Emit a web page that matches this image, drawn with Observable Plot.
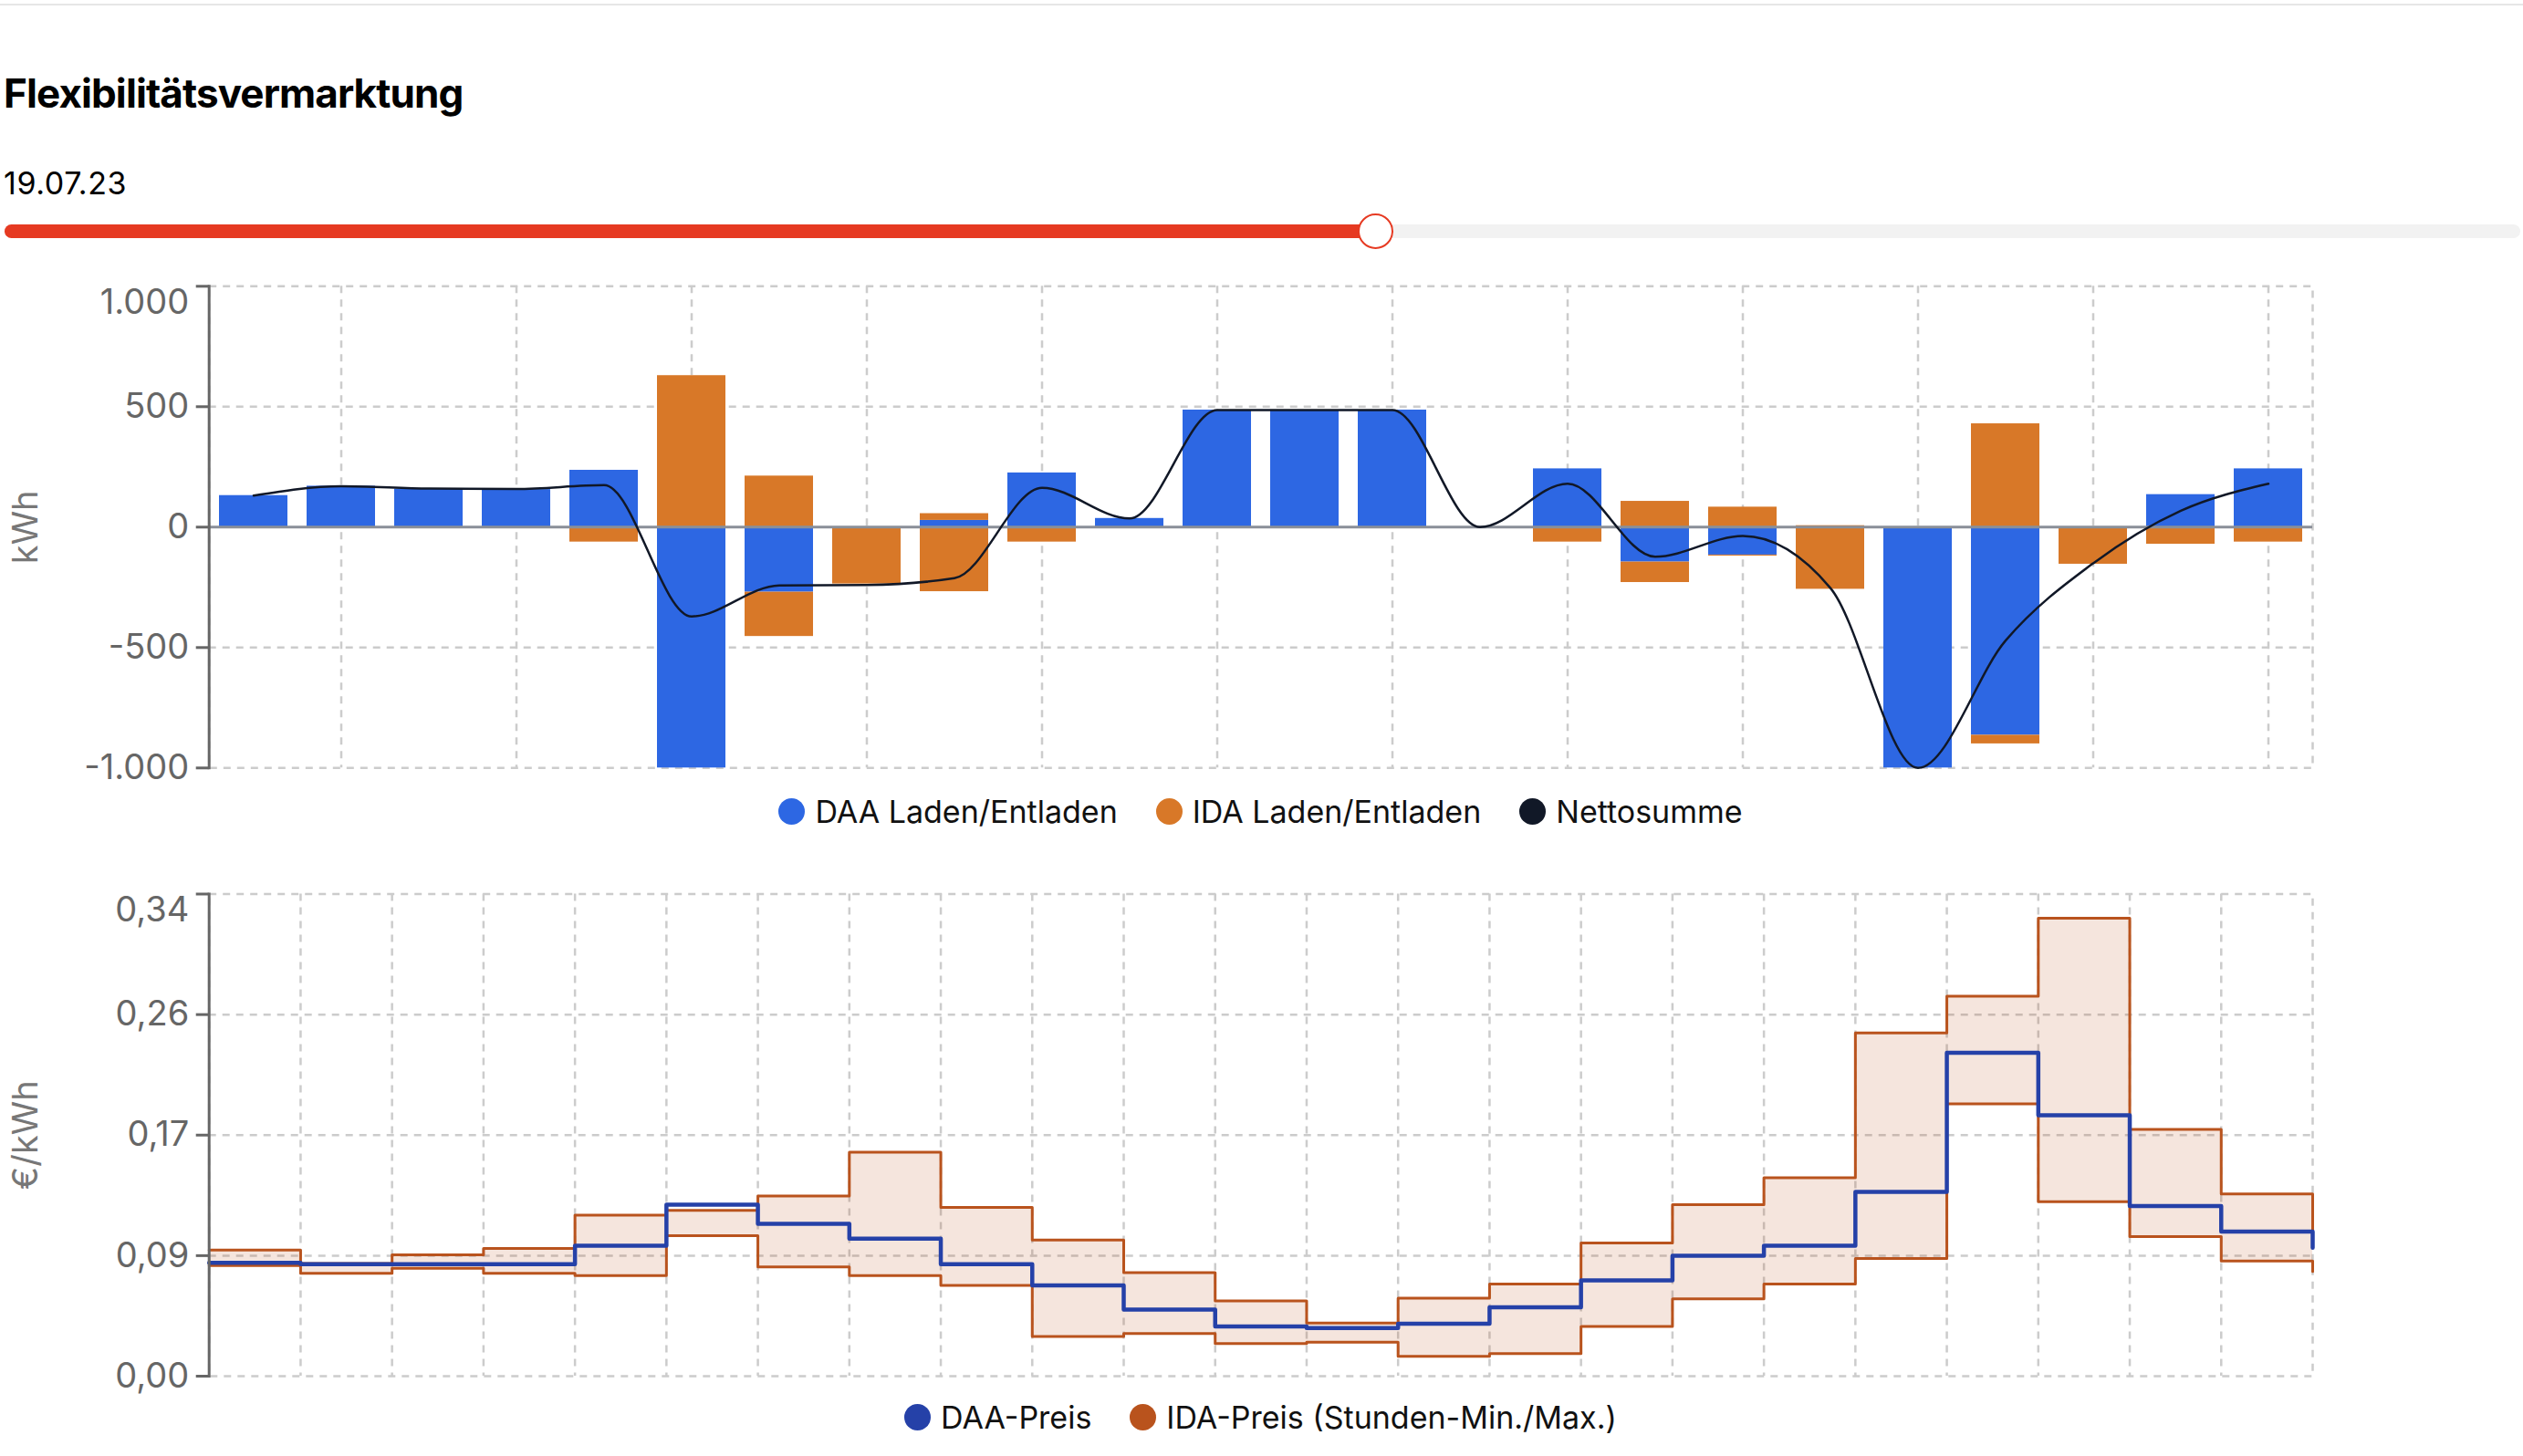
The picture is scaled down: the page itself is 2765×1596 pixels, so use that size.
<!DOCTYPE html>
<html>
<head>
<meta charset="utf-8">
<script src="https://cdn.jsdelivr.net/npm/d3@7"></script>
<script src="https://cdn.jsdelivr.net/npm/@observablehq/plot@0.6"></script>
<style>
  body { margin: 0; background: #fff; font-family: Inter, "Noto Sans", sans-serif; }
  #page { position: relative; width: 2765px; height: 1596px; overflow: hidden; background: #fff; }
  .topline { position: absolute; left: 0; top: 4px; width: 2765px; height: 2px; background: #e6e6e6; }
  .title { position: absolute; left: 4px; top: 80px; font-size: 44px; font-weight: 700; line-height: 44px; color: #000; white-space: nowrap; letter-spacing: -0.9px; }
  .date { position: absolute; left: 4px; top: 184px; font-size: 34px; line-height: 34px; color: #000; letter-spacing: 0.6px; }
  .track { position: absolute; left: 5px; top: 246px; width: 2757px; height: 15px; border-radius: 8px; background: #f2f2f2; }
  .fill { position: absolute; left: 5px; top: 246px; width: 1503px; height: 15px; border-radius: 8px; background: #e63a22; }
  .knob { position: absolute; left: 1488px; top: 234px; width: 39px; height: 39px; box-sizing: border-box; border-radius: 50%; background: #fff; border: 2.5px solid #e63a22; }
  .chart { position: absolute; left: 0; }
  .legend { position: absolute; left: 229px; width: 2305px; height: 40px; display: flex; justify-content: center; align-items: center; font-size: 34px; color: #111; }
  .item { display: flex; align-items: center; margin: 0 21px; white-space: nowrap; }
  .dot { width: 29px; height: 29px; border-radius: 50%; margin-right: 11px; }
</style>
</head>
<body>
<div id="page">
  <div class="topline"></div>
  <div class="title">Flexibilitätsvermarktung</div>
  <div class="date">19.07.23</div>
  <div class="track"></div>
  <div class="fill"></div>
  <div class="knob"></div>
  <div id="top" class="chart" style="top:290px"></div>
  <div id="legendTop" class="legend" style="top:869px"></div>
  <div id="bottom" class="chart" style="top:950px"></div>
  <div id="legendBottom" class="legend" style="top:1533px"></div>
</div>
<script>
// ---------- data ----------
const hours = [0,1,2,3,4,5,6,7,8,9,10,11,12,13,14,15,16,17,18,19,20,21,22,23];

// energy (kWh) per hour
const daaEnergy    = [131, 170, 158, 156, 236, -1000, -270, 0, 28, 225, 36, 486, 486, 486, 0, 242, -145, -116, 0, -1000, -864, 0, 135, 242];
const idaCharge    = [0, 0, 0, 0, 0, 629, 212, 0, 28, 0, 0, 0, 0, 0, 0, 0, 107, 83, 6, 0, 429, 0, 0, 0];
const idaDischarge = [0, 0, 0, 0, -62, 0, -184, -236, -268, -62, 0, 0, 0, 0, 0, -62, -85, -4, -258, 0, -36, -154, -71, -62];
const netSum       = [131, 170, 160, 158, 174, -371, -242, -240, -212, 163, 36, 486, 486, 486, 0, 180, -123, -37, -253, -1000, -471, -150, 68, 180];

// prices (€/kWh) per hour
const daaPrice = [0.080, 0.079, 0.079, 0.079, 0.092, 0.121, 0.1075, 0.097, 0.079, 0.064, 0.047, 0.035, 0.034, 0.037, 0.0485, 0.0675, 0.085, 0.092, 0.130, 0.228, 0.184, 0.120, 0.102, 0.0905];
const idaMax   = [0.089, 0.0795, 0.0855, 0.090, 0.1135, 0.117, 0.127, 0.158, 0.119, 0.096, 0.073, 0.053, 0.0375, 0.055, 0.065, 0.094, 0.121, 0.140, 0.242, 0.268, 0.323, 0.174, 0.1285, 0.1015];
const idaMin   = [0.078, 0.0725, 0.076, 0.0725, 0.071, 0.099, 0.077, 0.071, 0.064, 0.028, 0.030, 0.023, 0.024, 0.014, 0.016, 0.035, 0.0545, 0.065, 0.083, 0.192, 0.123, 0.0985, 0.0813, 0.0738];

// ticks
const energyTicks = [-1000, -500, 0, 500, 1000];
const energyTickLabels = ["-1.000", "-500", "0", "500", "1.000"];
const priceTicks = [0, 0.085, 0.17, 0.255, 0.34];
const priceTickLabels = ["0,00", "0,09", "0,17", "0,26", "0,34"];
const topGridHours = [1,3,5,7,9,11,13,15,17,19,21,23];

// series names & colours
const seriesTop = ["DAA Laden/Entladen", "IDA Laden/Entladen", "Nettosumme"];
const colorsTop = ["#2d67e3", "#d87828", "#111827"];
const seriesBottom = ["DAA-Preis", "IDA-Preis (Stunden-Min./Max.)"];
const colorsBottom = ["#2541a8", "#b9531d"];

// ---------- tables ----------
const barRows = [
  ...hours.map((h, i) => ({hour: h, type: "DAA", value: daaEnergy[i]})),
  ...hours.map((h, i) => ({hour: h, type: "IDA", value: idaCharge[i]})),
  ...hours.map((h, i) => ({hour: h, type: "IDA", value: idaDischarge[i]}))
].filter(d => d.value !== 0);
const netRows = hours.map((h, i) => ({hour: h, net: netSum[i]}));
const priceRows = hours.map((h, i) => ({hour: h, daa: daaPrice[i], max: idaMax[i], min: idaMin[i]}));

const gridStyle = {stroke: "#cccccc", strokeOpacity: 1, strokeWidth: 2.5, strokeDasharray: "8,7"};
const axisColor = "#666666";
const W = 2765, ML = 228.7, MR = 231;
const font = "Inter, 'Noto Sans', sans-serif";

// ---------- top chart ----------
const topChart = Plot.plot({
  width: W, height: 580,
  marginLeft: ML, marginRight: MR, marginTop: 23.3, marginBottom: 28.7,
  style: {fontFamily: font, fontSize: "38px", color: axisColor, background: "transparent", overflow: "visible"},
  x: {type: "band", domain: hours, paddingInner: 0.22, paddingOuter: 0.11, axis: null},
  y: {domain: [-1000, 1000], label: null},
  color: {domain: ["DAA", "IDA"], range: [colorsTop[0], colorsTop[1]]},
  marks: [
    Plot.gridY([-500, 500], gridStyle),
    Plot.gridX(topGridHours, gridStyle),
    Plot.frame(gridStyle),
    Plot.barY(barRows, {x: "hour", y: "value", fill: "type"}),
    Plot.ruleY([0], {stroke: "#8a8f98", strokeWidth: 3}),
    Plot.line(netRows, {x: "hour", y: "net", curve: "monotone-x", stroke: colorsTop[2], strokeWidth: 2.5}),
    Plot.frame({anchor: "left", stroke: axisColor, strokeWidth: 3}),
    Plot.axisY(energyTicks, {tickSize: 14, tickPadding: 8, strokeWidth: 3, color: axisColor, fontSize: 38, fontVariant: "normal", label: null,
      tickFormat: d => d === 1000 ? "" : energyTickLabels[energyTicks.indexOf(d)]}),
    Plot.axisY([1000], {tickSize: 0, tickPadding: 22, dy: 18, color: axisColor, fontSize: 38, fontVariant: "normal", label: null,
      tickFormat: d => energyTickLabels[energyTicks.indexOf(d)]}),
    Plot.text(["kWh"], {frameAnchor: "left", textAnchor: "middle", dx: -200, rotate: -90, fontSize: 38, fill: "#777"})
  ]
});
document.getElementById("top").append(topChart);

// ---------- bottom chart ----------
const bottomChart = Plot.plot({
  width: W, height: 580,
  marginLeft: ML, marginRight: MR, marginTop: 29.5, marginBottom: 22,
  style: {fontFamily: font, fontSize: "38px", color: axisColor, background: "transparent", overflow: "visible"},
  x: {domain: [0, 23], axis: null},
  y: {domain: [0, 0.34], label: null},
  marks: [
    Plot.gridY(priceTicks.slice(1, 4), gridStyle),
    Plot.gridX(hours.slice(1, 23), gridStyle),
    Plot.frame(gridStyle),
    Plot.areaY(priceRows, {x: "hour", y1: "min", y2: "max", curve: "step-after", fill: colorsBottom[1], fillOpacity: 0.15}),
    Plot.lineY(priceRows, {x: "hour", y: "max", curve: "step-after", stroke: colorsBottom[1], strokeWidth: 3}),
    Plot.lineY(priceRows, {x: "hour", y: "min", curve: "step-after", stroke: colorsBottom[1], strokeWidth: 3}),
    Plot.lineY(priceRows, {x: "hour", y: "daa", curve: "step-after", stroke: colorsBottom[0], strokeWidth: 4.5}),
    Plot.frame({anchor: "left", stroke: axisColor, strokeWidth: 3}),
    Plot.axisY(priceTicks, {tickSize: 14, tickPadding: 8, strokeWidth: 3, color: axisColor, fontSize: 38, fontVariant: "normal", label: null,
      tickFormat: d => d === 0.34 ? "" : priceTickLabels[priceTicks.indexOf(d)]}),
    Plot.axisY([0.34], {tickSize: 0, tickPadding: 22, dy: 18, color: axisColor, fontSize: 38, fontVariant: "normal", label: null,
      tickFormat: d => priceTickLabels[priceTicks.indexOf(d)]}),
    Plot.text(["€/kWh"], {frameAnchor: "left", textAnchor: "middle", dx: -200, rotate: -90, fontSize: 38, fill: "#777"})
  ]
});
document.getElementById("bottom").append(bottomChart);

// ---------- legends ----------
function legend(el, names, colors) {
  names.forEach((n, i) => {
    const item = document.createElement("div");
    item.className = "item";
    const dot = document.createElement("div");
    dot.className = "dot";
    dot.style.background = colors[i];
    const label = document.createElement("span");
    label.textContent = n;
    item.append(dot, label);
    el.append(item);
  });
}
legend(document.getElementById("legendTop"), seriesTop, colorsTop);
legend(document.getElementById("legendBottom"), seriesBottom, colorsBottom);
</script>
</body>
</html>
